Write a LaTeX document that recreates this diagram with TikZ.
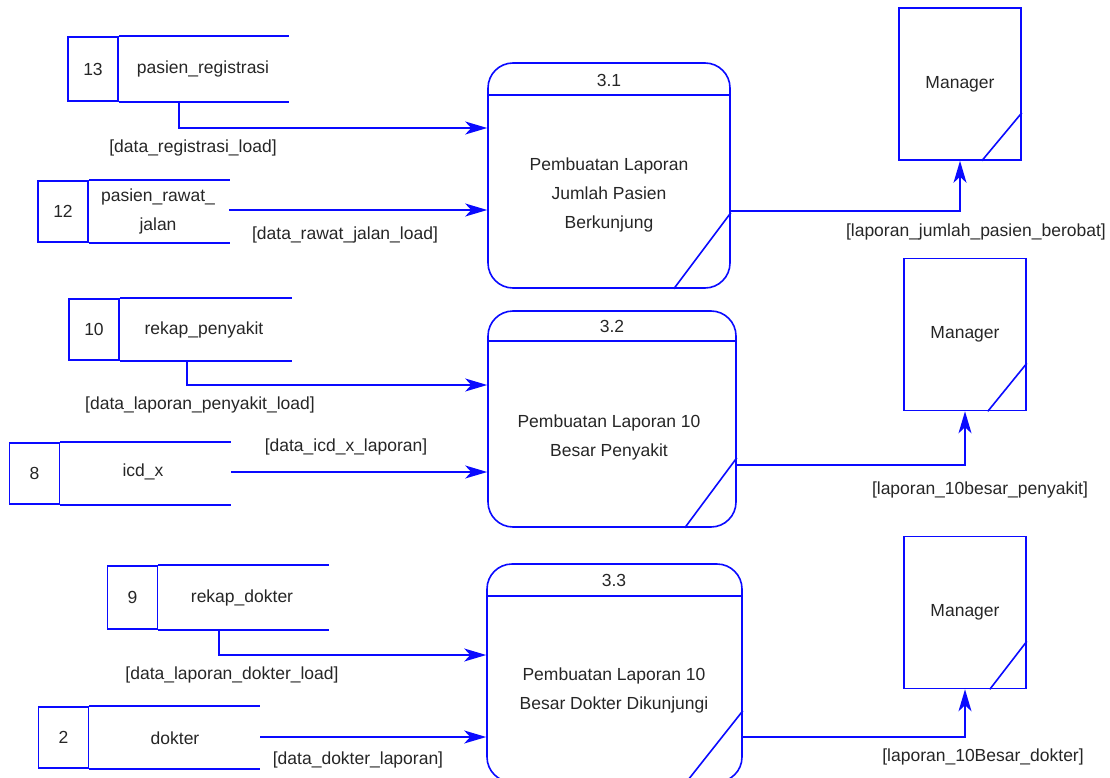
\documentclass[tikz,border=0pt]{standalone}
\usepackage{fontspec}
\setmainfont{Liberation Sans}
\usetikzlibrary{arrows.meta}
\definecolor{dfdblue}{RGB}{10,10,255}
\tikzset{
  every node/.style={font=\fontsize{17.5}{29}\selectfont, text=black!85},
  dfdline/.style={draw=dfdblue, line width=1.6pt},
  flow/.style={dfdline, -{Stealth[length=22pt,width=13pt,inset=6pt]}},
  storeid/.style={dfdline, minimum width=50pt, inner sep=0pt},
  proc/.style={dfdline, rounded corners=25pt, inner sep=0pt},
  entity/.style={dfdline, minimum width=122pt, minimum height=152pt, inner sep=0pt},
}

\begin{document}
\begin{tikzpicture}[x=1pt,y=-1pt]
\clip (0,0) rectangle (1110,778);

% process 3.1
\node[proc, minimum width=242pt, minimum height=225pt] (p31) at (609,175.5) {};
\draw[dfdline] ([yshift=-33pt]p31.north west) -- ([yshift=-33pt]p31.north east);
\draw[dfdline] ([xshift=-57pt]p31.south east) -- ([yshift=76pt]p31.south east);
\node (p31num) at (609,80) {3.1};
\node[align=center] (p31txt) at (609,195) {Pembuatan Laporan\\Jumlah Pasien\\Berkunjung};

\node[entity] (m1) at (960,84) {Manager};
\draw[dfdline] ([xshift=-40pt]m1.south east) -- ([yshift=48pt]m1.south east);

\node[storeid, minimum height=64pt] (s13id) at (93,69) {13};
\node (s13) at (203,69) {pasien\_registrasi};
\draw[dfdline] (s13id.north east) -- ++(170,0) (s13id.south east) -- ++(170,0);

\node[storeid, minimum height=61pt] (s12id) at (63,211.5) {12};
\node[align=center] (s12) at (158,211) {pasien\_rawat\_\\jalan};
\draw[dfdline] (s12id.north east) -- ++(141,0) (s12id.south east) -- ++(141,0);

\coordinate (s13out) at (179,101);
\coordinate (s12out) at (229,210);
\draw[flow] (s13out) |- ([yshift=47.5pt]p31.west);
\draw[flow] (s12out) -- (p31.west |- s12out);
\draw[flow] ([yshift=-35.5pt]p31.east) -| (m1.south);
\node (f13) at (193,148) {[data\_registrasi\_load]};
\node (f12) at (345,235) {[data\_rawat\_jalan\_load]};
\node[anchor=east, inner sep=0pt] (f31) at (1106,232) {[laporan\_jumlah\_pasien\_berobat]};

% process 3.2
\node[proc, minimum width=248pt, minimum height=216pt] (p32) at (612,419) {};
\draw[dfdline] ([yshift=-31pt]p32.north west) -- ([yshift=-31pt]p32.north east);
\draw[dfdline] ([xshift=-52pt]p32.south east) -- ([yshift=70pt]p32.south east);
\node (p32num) at (612,326) {3.2};
\node[align=center] (p32txt) at (609,437) {Pembuatan Laporan 10\\Besar Penyakit};

\node[entity] (m2) at (965,334.5) {Manager};
\draw[dfdline] ([xshift=-39pt]m2.south east) -- ([yshift=48pt]m2.south east);

\node[storeid, minimum height=61pt] (s10id) at (94,329.5) {10};
\node (s10) at (204,330) {rekap\_penyakit};
\draw[dfdline] (s10id.north east) -- ++(172,0) (s10id.south east) -- ++(172,0);

\node[storeid, minimum height=61pt] (s8id) at (34.5,473.5) {8};
\node (s8) at (143,472) {icd\_x};
\draw[dfdline] (s8id.north east) -- ++(171,0) (s8id.south east) -- ++(171,0);

\coordinate (s10out) at (187,360);
\coordinate (s8out) at (231,472);
\draw[flow] (s10out) |- ([yshift=34pt]p32.west);
\draw[flow] (s8out) -- (p32.west |- s8out);
\draw[flow] ([yshift=-46pt]p32.east) -| (m2.south);
\node (f10) at (200,405) {[data\_laporan\_penyakit\_load]};
\node (f8) at (346,447) {[data\_icd\_x\_laporan]};
\node (f32) at (980,490) {[laporan\_10besar\_penyakit]};

% process 3.3
\node[proc, minimum width=255pt, minimum height=218pt] (p33) at (614.5,673) {};
\draw[dfdline] ([yshift=-33pt]p33.north west) -- ([yshift=-33pt]p33.north east);
\draw[dfdline] ([xshift=-57pt]p33.south east) -- ([yshift=72pt]p33.south east);
\node (p33num) at (614,580) {3.3};
\node[align=center] (p33txt) at (614,690) {Pembuatan Laporan 10\\Besar Dokter Dikunjungi};

\node[entity] (m3) at (965,612.5) {Manager};
\draw[dfdline] ([xshift=-37pt]m3.south east) -- ([yshift=48pt]m3.south east);

\node[storeid, minimum height=63pt] (s9id) at (132.5,597.5) {9};
\node (s9) at (242,598) {rekap\_dokter};
\draw[dfdline] (s9id.north east) -- ++(171,0) (s9id.south east) -- ++(171,0);

\node[storeid, minimum height=61pt] (s2id) at (63.5,737.5) {2};
\node (s2) at (175,738) {dokter};
\draw[dfdline] (s2id.north east) -- ++(171,0) (s2id.south east) -- ++(171,0);

\coordinate (s9out) at (219,629);
\coordinate (s2out) at (260,737);
\draw[flow] (s9out) |- ([yshift=18pt]p33.west);
\draw[flow] (s2out) -- (p33.west |- s2out);
\draw[flow] ([yshift=-64pt]p33.east) -| (m3.south);
\node (f9) at (232,675) {[data\_laporan\_dokter\_load]};
\node (f2) at (358,760) {[data\_dokter\_laporan]};
\node (f33) at (983,757) {[laporan\_10Besar\_dokter]};
\end{tikzpicture}
\end{document}
